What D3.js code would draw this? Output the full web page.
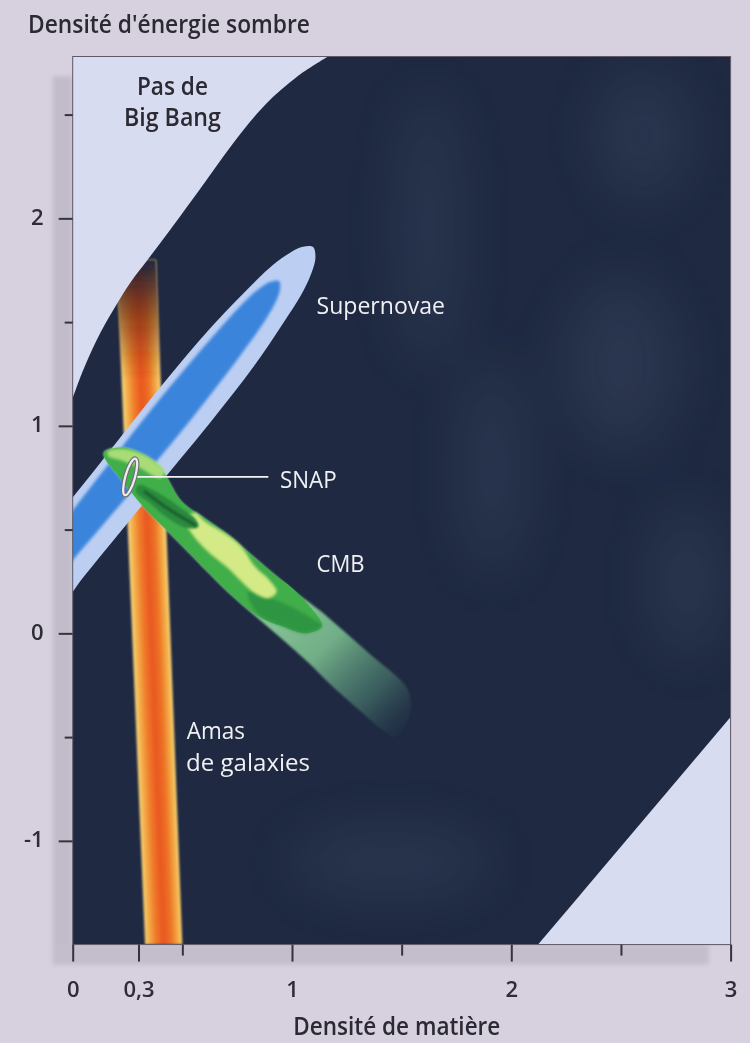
<!DOCTYPE html>
<html>
<head>
<meta charset="utf-8">
<script src="https://cdn.jsdelivr.net/npm/d3@7"></script>
<style>
  html, body { margin: 0; padding: 0; background: #d6d0df; }
  svg { display: block; }
  text { font-family: "Open Sans", "Noto Sans", "DejaVu Sans", sans-serif; }
</style>
</head>
<body>
<svg id="chart" width="750" height="1043"></svg>
<script>
// ---- Axis ticks ----------------------------------------------------------
const xTicks = [0, 0.3, 0.5, 1, 1.5, 2, 2.5, 3];
const xTickLabels = ["0", "0,3", "", "1", "", "2", "", "3"];
const yTicks = [-1, -0.5, 0, 0.5, 1, 1.5, 2, 2.5];
const yTickLabels = ["-1", "", "0", "", "1", "", "2", ""];

// ---- Forbidden regions (matter density, dark-energy density) ----------------
const noBigBangEdge = [[0, 1.134], [0.048, 1.269], [0.109, 1.413], [0.185, 1.558],
  [0.261, 1.687], [0.352, 1.815], [0.444, 1.944], [0.58, 2.14], [0.73, 2.36],
  [0.88, 2.55], [1.02, 2.68], [1.165, 2.78]];
const lowerRightEdge = [[2.122, -1.5], [3, -0.403]];

// ---- Galaxy clusters band: [dark-energy density, low edge, high edge] ----------
const clusterTop = [1.80, 0.20, 0.38];
const clusterBottom = [-1.5, 0.33, 0.50];

// ---- Supernovae contours (outer and inner) ----
const snOuter = [[1.096, 1.862], [1.107, 1.815], [1.094, 1.752], [1.052, 1.651], [0.955, 1.487],
  [0.826, 1.287], [0.630, 1.020], [0.340, 0.648], [0.052, 0.275], [-0.149, 0.012], [-0.338, -0.013],
  [-0.355, 0.187], [-0.155, 0.450], [0.130, 0.827], [0.414, 1.205], [0.620, 1.462],
  [0.778, 1.638], [0.910, 1.773], [0.995, 1.837], [1.050, 1.863]];
const snInner = [[0.941, 1.698], [0.945, 1.657], [0.932, 1.613], [0.888, 1.526], [0.770, 1.348],
  [0.548, 1.042], [0.286, 0.708], [0.049, 0.414], [-0.164, 0.162], [-0.322, 0.048],
  [-0.249, 0.235], [-0.061, 0.508], [0.162, 0.814], [0.416, 1.154], [0.653, 1.448],
  [0.793, 1.608], [0.864, 1.671], [0.902, 1.694]];

// ---- CMB contours ----
const cmbOuter = [[0.143, 0.874], [0.239, 0.895], [0.360, 0.835], [0.413, 0.779], [0.497, 0.634],
  [0.603, 0.554], [0.710, 0.474], [0.816, 0.377], [0.923, 0.281], [1.014, 0.201], [1.135, 0.104],
  [1.257, -0.008], [1.379, -0.121], [1.470, -0.201], [1.529, -0.273], [1.540, -0.385], [1.475, -0.500],
  [1.409, -0.462], [1.318, -0.380], [1.196, -0.267], [1.074, -0.140], [0.953, -0.026], [0.831, 0.085],
  [0.710, 0.197], [0.603, 0.309], [0.497, 0.423], [0.406, 0.520], [0.330, 0.600], [0.254, 0.697],
  [0.193, 0.779], [0.147, 0.843]];
const cmbCore = [[0.143, 0.874], [0.239, 0.895], [0.360, 0.835], [0.413, 0.779], [0.497, 0.634],
  [0.603, 0.554], [0.710, 0.474], [0.816, 0.377], [0.923, 0.281], [0.991, 0.227], [1.064, 0.150],
  [1.137, 0.035], [1.064, 0.001], [0.954, 0.035], [0.845, 0.083], [0.710, 0.199], [0.603, 0.311],
  [0.497, 0.424], [0.406, 0.521], [0.330, 0.601], [0.254, 0.698], [0.193, 0.779], [0.147, 0.843]];
const cmbDarkPatch = [[0.799, 0.199], [0.900, 0.170], [0.991, 0.131], [1.091, 0.073], [1.137, 0.035],
  [1.064, 0.001], [0.954, 0.035], [0.845, 0.093]];
const cmbYellow = [[0.558, 0.580], [0.603, 0.540], [0.710, 0.470], [0.771, 0.415], [0.831, 0.322],
  [0.892, 0.262], [0.930, 0.200], [0.892, 0.169], [0.831, 0.193], [0.771, 0.249], [0.710, 0.313],
  [0.634, 0.377], [0.573, 0.441], [0.527, 0.506], [0.512, 0.554]];
const cmbTipLight = [[0.161, 0.879], [0.239, 0.888], [0.353, 0.845], [0.421, 0.777], [0.398, 0.748],
  [0.307, 0.797], [0.216, 0.835], [0.161, 0.855]];
const cmbInner = [[0.299, 0.715], [0.406, 0.667], [0.497, 0.602], [0.558, 0.554], [0.573, 0.514],
  [0.527, 0.506], [0.436, 0.554], [0.345, 0.634], [0.289, 0.681]];
const cmbRidge = [[0.330, 0.682], [0.444, 0.594], [0.558, 0.522]];

// ---- SNAP projection ----
const snapCentre = [0.262, 0.754];
const snapLeaderEnd = [0.892, 0.754];

// ---- Lighter nebula streaks in the background: [m0, m1, l0, l1] ----
const cloudPatches = [[1.50, 1.75, 1.3, 2.6], [1.78, 2.05, 0.3, 1.3], [2.4, 2.8, 2.1, 2.7],
  [2.25, 2.75, 0.9, 1.7], [1.0, 1.9, -1.25, -0.95], [2.65, 2.95, -0.1, 0.6]];

// ---------------------------------------------------------------------------
const svg = d3.select("#chart");
const defs = svg.append("defs");

const x = d3.scaleLinear().domain([0, 3]).range([72.7, 730.6]);
const y = d3.scaleLinear().domain([-1.5, 2.78]).range([944.6, 56.5]);
const X0 = x(0), X1 = x(3), YT = y(2.78), YB = y(-1.5);

const px = d => [x(d[0]), y(d[1])];
const closedCurve = d3.line().x(d => x(d[0])).y(d => y(d[1])).curve(d3.curveCatmullRomClosed.alpha(0.5));

// filters
function blurFilter(id, sd) {
  const f = defs.append("filter").attr("id", id)
    .attr("x", "-30%").attr("y", "-30%").attr("width", "160%").attr("height", "160%");
  f.append("feGaussianBlur").attr("stdDeviation", sd);
}
blurFilter("b06", 0.6);
blurFilter("b1", 1);
blurFilter("b15", 1.6);
blurFilter("b2", 2.2);
blurFilter("cloud", 26);

defs.append("clipPath").attr("id", "plotClip").append("rect")
  .attr("x", X0).attr("y", YT).attr("width", X1 - X0).attr("height", YB - YT);

// page shadow strips along the left and bottom of the plot
const shade = svg.append("g").attr("filter", "url(#b2)");
shade.append("rect").attr("x", X0 - 20).attr("y", YT + 20).attr("width", 20).attr("height", YB - YT)
  .attr("fill", "#c2bbc9");
shade.append("rect").attr("x", X0 - 18).attr("y", YB).attr("width", x(2.9) - X0 + 18).attr("height", 20)
  .attr("fill", "#c4bdcb");

// plot body
const plot = svg.append("g").attr("clip-path", "url(#plotClip)");
plot.append("rect").attr("x", X0).attr("y", YT).attr("width", X1 - X0).attr("height", YB - YT)
  .attr("fill", "#1f2a42");

// nebula haze
const haze = plot.append("g").attr("filter", "url(#cloud)");
haze.selectAll("ellipse").data(cloudPatches).join("ellipse")
  .attr("cx", d => (x(d[0]) + x(d[1])) / 2)
  .attr("cy", d => (y(d[2]) + y(d[3])) / 2)
  .attr("rx", d => (x(d[1]) - x(d[0])) / 2)
  .attr("ry", d => (y(d[2]) - y(d[3])) / 2)
  .attr("fill", "#5d6e8f").attr("opacity", 0.17);

// ---- galaxy clusters band ----
const bandPts = [[clusterTop[1], clusterTop[0]], [clusterTop[2], clusterTop[0]],
  [clusterBottom[2], clusterBottom[0]], [clusterBottom[1], clusterBottom[0]]];
const bandPath = "M" + bandPts.map(px).map(p => p.join(",")).join("L") + "Z";
{
  const topMid = [(x(clusterTop[1]) + x(clusterTop[2])) / 2, y(clusterTop[0])];
  const botMid = [(x(clusterBottom[1]) + x(clusterBottom[2])) / 2, y(clusterBottom[0])];
  const len = Math.hypot(botMid[0] - topMid[0], botMid[1] - topMid[1]);
  const dir = [(botMid[0] - topMid[0]) / len, (botMid[1] - topMid[1]) / len];
  const perp = [dir[1], -dir[0]];
  const midY = (topMid[1] + botMid[1]) / 2;
  const leftMid = [(x(clusterTop[1]) + x(clusterBottom[1])) / 2, midY];
  const rightMid = [(x(clusterTop[2]) + x(clusterBottom[2])) / 2, midY];
  const w = (rightMid[0] - leftMid[0]) * perp[0];
  const g = defs.append("linearGradient").attr("id", "bandGrad").attr("gradientUnits", "userSpaceOnUse")
    .attr("x1", leftMid[0]).attr("y1", leftMid[1])
    .attr("x2", leftMid[0] + w * perp[0]).attr("y2", leftMid[1] + w * perp[1]);
  [[0, "#f6d57f"], [0.12, "#f4b04a"], [0.3, "#ef7b2b"], [0.5, "#e9571f"], [0.7, "#ed7226"],
   [0.88, "#f3ad46"], [1, "#f6d27a"]].forEach(s => g.append("stop").attr("offset", s[0]).attr("stop-color", s[1]));
  const t = defs.append("linearGradient").attr("id", "bandTop").attr("gradientUnits", "userSpaceOnUse")
    .attr("x1", 0).attr("y1", y(clusterTop[0])).attr("x2", 0).attr("y2", y(1.22));
  [[0, "#1f2a42", 1], [0.12, "#2e2230", 0.9], [0.45, "#5a2618", 0.6], [1, "#7a2c14", 0]]
    .forEach(s => t.append("stop").attr("offset", s[0]).attr("stop-color", s[1]).attr("stop-opacity", s[2]));
}
plot.append("path").attr("d", bandPath).attr("fill", "url(#bandGrad)").attr("filter", "url(#b1)");
plot.append("path").attr("d", bandPath).attr("fill", "url(#bandTop)").attr("filter", "url(#b1)");

// ---- supernovae contours ----
plot.append("path").attr("d", closedCurve(snOuter)).attr("fill", "#bccff2").attr("filter", "url(#b06)");
plot.append("path").attr("d", closedCurve(snInner)).attr("fill", "#3a84dc").attr("filter", "url(#b15)");

// ---- CMB contours ----
{
  const a = px([0.92, 0.20]), b = px([1.53, -0.45]);
  const g = defs.append("linearGradient").attr("id", "cmbFade").attr("gradientUnits", "userSpaceOnUse")
    .attr("x1", a[0]).attr("y1", a[1]).attr("x2", b[0]).attr("y2", b[1]);
  [[0, "#8fd09d", 0.97], [0.4, "#80c493", 0.85], [0.75, "#55907a", 0.5], [1, "#3c6466", 0.05]]
    .forEach(s => g.append("stop").attr("offset", s[0]).attr("stop-color", s[1]).attr("stop-opacity", s[2]));
}
plot.append("path").attr("d", closedCurve(cmbOuter)).attr("fill", "url(#cmbFade)").attr("filter", "url(#b1)");
plot.append("path").attr("d", closedCurve(cmbCore)).attr("fill", "#3fae4a").attr("filter", "url(#b06)");
plot.append("path").attr("d", closedCurve(cmbDarkPatch)).attr("fill", "#2f9642").attr("filter", "url(#b15)");
plot.append("path").attr("d", closedCurve(cmbYellow)).attr("fill", "#d4ea86").attr("filter", "url(#b15)");
plot.append("path").attr("d", closedCurve(cmbTipLight)).attr("fill", "#a8dc76").attr("filter", "url(#b15)");
plot.append("path").attr("d", closedCurve(cmbInner)).attr("fill", "#2b8a3d").attr("filter", "url(#b1)");
plot.append("path").attr("d", d3.line().x(d => x(d[0])).y(d => y(d[1])).curve(d3.curveCatmullRom)(cmbRidge))
  .attr("fill", "none").attr("stroke", "#1a5d2e").attr("stroke-width", 3).attr("stroke-linecap", "round")
  .attr("filter", "url(#b1)");

// ---- SNAP ----
{
  const c = px(snapCentre), e = px(snapLeaderEnd);
  plot.append("line").attr("x1", c[0] + 3).attr("y1", c[1]).attr("x2", e[0]).attr("y2", e[1])
    .attr("stroke", "#f4f4f6").attr("stroke-width", 1.6);
  const ring = plot.append("g").attr("transform", `rotate(16,${c[0]},${c[1]})`);
  ring.append("ellipse").attr("cx", c[0]).attr("cy", c[1]).attr("rx", 4.8).attr("ry", 19)
    .attr("fill", "none").attr("stroke", "#6e6e76").attr("stroke-width", 4.6);
  ring.append("ellipse").attr("cx", c[0]).attr("cy", c[1]).attr("rx", 4.8).attr("ry", 19)
    .attr("fill", "none").attr("stroke", "#ececef").attr("stroke-width", 2.3);
}

// ---- forbidden regions ----
const edgeLine = d3.line().x(d => x(d[0])).y(d => y(d[1])).curve(d3.curveCatmullRom.alpha(0.5));
plot.append("path")
  .attr("d", edgeLine(noBigBangEdge) + `L${x(0)},${y(2.78)}Z`)
  .attr("fill", "#d8dcf0");
plot.append("path")
  .attr("d", "M" + lowerRightEdge.map(px).map(p => p.join(",")).join("L") + `L${x(3)},${y(-1.5)}Z`)
  .attr("fill", "#d8dcf1");

// frame
svg.append("rect").attr("x", X0).attr("y", YT).attr("width", X1 - X0).attr("height", YB - YT)
  .attr("fill", "none").attr("stroke", "#5f5a66").attr("stroke-width", 1);

// ---- axes ----
const xAxis = d3.axisBottom(x).tickValues(xTicks).tickFormat((d, i) => xTickLabels[i]).tickSizeOuter(0);
const gx = svg.append("g").attr("transform", `translate(0,${YB})`).call(xAxis);
gx.select(".domain").remove();
gx.selectAll(".tick line").attr("stroke", "#35333b").attr("stroke-width", 2)
  .attr("y2", (d, i) => xTickLabels[i] ? 17 : 11);
gx.selectAll(".tick text").attr("y", 52.4).attr("dy", 0)
  .attr("font-size", 22).attr("font-weight", 600).attr("fill", "#2e2c35")
  .style("font-family", '"Open Sans", "Noto Sans", sans-serif');

const yAxis = d3.axisLeft(y).tickValues(yTicks).tickFormat((d, i) => yTickLabels[i]).tickSizeOuter(0);
const gy = svg.append("g").attr("transform", `translate(${X0},0)`).call(yAxis);
gy.select(".domain").remove();
gy.selectAll(".tick line").attr("stroke", "#35333b").attr("stroke-width", 2)
  .attr("x2", (d, i) => yTickLabels[i] ? -14 : -8);
gy.selectAll(".tick text").attr("x", -29).attr("dy", 6).attr("text-anchor", "end")
  .attr("font-size", 22).attr("font-weight", 600).attr("fill", "#2e2c35")
  .style("font-family", '"Open Sans", "Noto Sans", sans-serif');

// ---- text ----
function label(lines, opts = {}) {
  const t = svg.append("text")
    .attr("text-anchor", opts.anchor || "start")
    .attr("font-size", opts.size || 25)
    .attr("font-weight", opts.weight || 600)
    .attr("fill", opts.fill || "#2b2932");
  lines.forEach(l => t.append("tspan").attr("x", l[1]).attr("y", l[2])
    .attr("textLength", l[3]).attr("lengthAdjust", "spacingAndGlyphs").text(l[0]));
  return t;
}
label([["Densité d'énergie sombre", 28, 33, 282]]);
label([["Densité de matière", 293.3, 1035, 207]]);
label([["Pas de", x(0.455), y(2.594), 71], ["Big Bang", x(0.455), y(2.445), 97]], { anchor: "middle" });

const white = { fill: "#f1f1f4", weight: 500, size: 24 };
label([["Supernovae", x(1.112), y(1.541), 128.5]], white);
label([["SNAP", x(0.945), y(0.700), 56.7]], white);
label([["CMB", x(1.112), y(0.295), 48]], white);
label([["Amas", x(0.520), y(-0.509), 58.3]], { fill: "#f1f1f4", weight: 500, size: 23 });
label([["de galaxies", x(0.517), y(-0.663), 124]], { fill: "#f1f1f4", weight: 500, size: 23 });
</script>
</body>
</html>
